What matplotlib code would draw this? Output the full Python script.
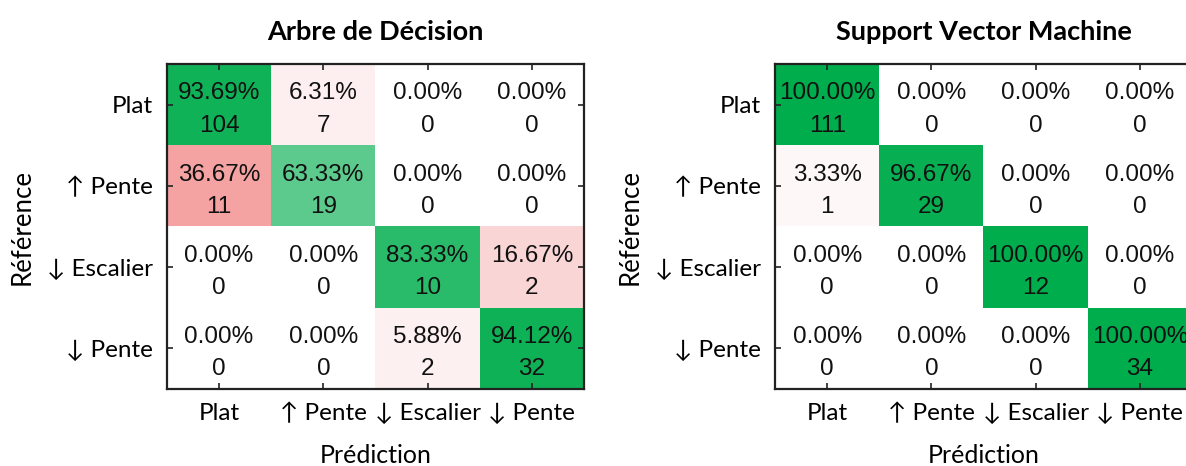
import numpy as np
import matplotlib.pyplot as plt
from matplotlib.colors import LinearSegmentedColormap

classes = ["Plat", "↑ Pente", "↓ Escalier", "↓ Pente"]

arbre_counts = [[104, 7, 0, 0],
                [11, 19, 0, 0],
                [0, 0, 10, 2],
                [0, 0, 2, 32]]

svm_counts = [[111, 0, 0, 0],
              [1, 29, 0, 0],
              [0, 0, 12, 0],
              [0, 0, 0, 34]]

titles = ["Arbre de Décision", "Support Vector Machine"]

label_font = ["Lato", "DejaVu Sans"]
num_font = ["Liberation Sans", "DejaVu Sans"]

greens = LinearSegmentedColormap.from_list("g", ["#ffffff", "#00ad4d"])
reds = LinearSegmentedColormap.from_list("r", ["#ffffff", "#e30000"])

fig = plt.figure(figsize=(11.86, 4.66), dpi=100)
positions = [[0.1408, 0.1652, 0.3516, 0.6974],
             [0.6535, 0.1652, 0.3516, 0.6974]]

for counts, title, pos in zip([arbre_counts, svm_counts], titles, positions):
    c = np.array(counts, dtype=float)
    pct = c / c.sum(axis=1, keepdims=True) * 100
    diag = np.eye(4, dtype=bool)
    ax = fig.add_axes(pos)
    ax.imshow(np.ma.masked_where(~diag, pct), cmap=greens, vmin=0, vmax=100, aspect="auto")
    ax.imshow(np.ma.masked_where(diag, pct), cmap=reds, vmin=0, vmax=100, aspect="auto")
    for i in range(4):
        for j in range(4):
            ax.text(j, i + 0.06, "%.2f%%\n%d" % (pct[i, j], counts[i][j]), ha="center", va="center",
                    fontsize=17.5, family=num_font, linespacing=1.6, color="#111111")
    ax.set_xticks(range(4))
    ax.set_yticks(range(4))
    ax.set_xticklabels(classes, family=label_font, fontsize=17.5)
    ax.set_yticklabels(classes, family=label_font, fontsize=17.5)
    ax.tick_params(direction="in", length=4, width=1.2, top=True, right=True, pad=10, color="#222222")
    for s in ax.spines.values():
        s.set_linewidth(1.6)
        s.set_color("#222222")
    ax.set_xlabel("Prédiction", family=label_font, fontsize=18, labelpad=14)
    ax.set_ylabel("Référence", family=label_font, fontsize=18.5, labelpad=9)
    ax.set_title(title, family=label_font, fontsize=19.5, fontweight="bold", pad=17)

fig.savefig("out.png", dpi=100)
